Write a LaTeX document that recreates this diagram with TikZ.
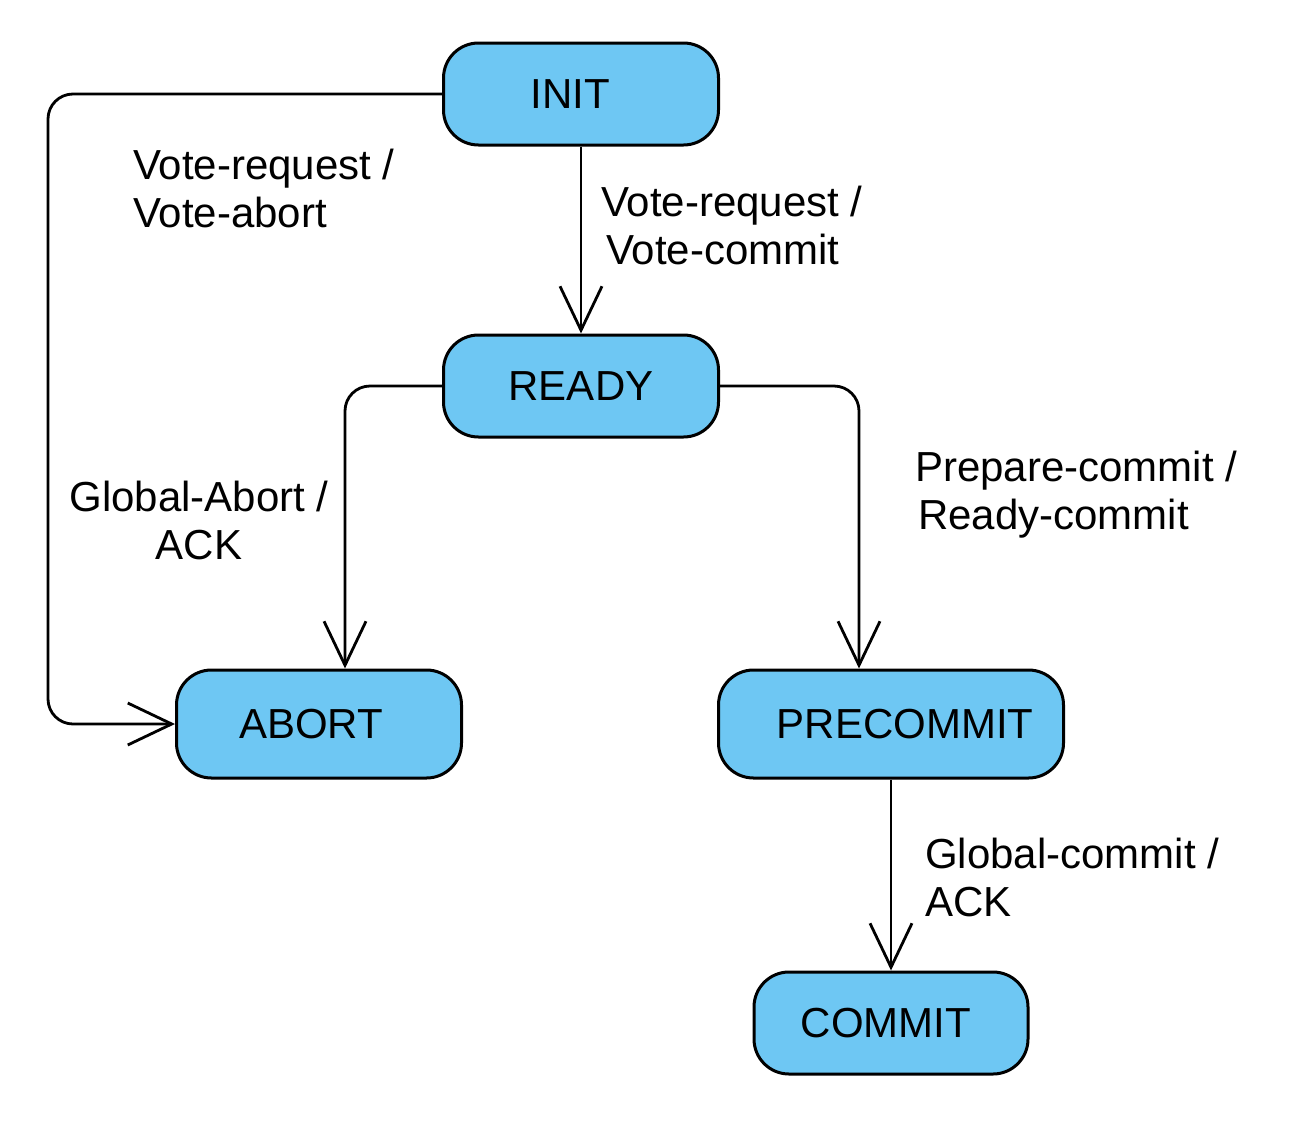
\documentclass[tikz,border=0pt]{standalone}
\usepackage{fontspec}
\setmainfont{Liberation Sans}
\usetikzlibrary{arrows.meta,positioning}

\begin{document}
\begin{tikzpicture}[x=1pt,y=-1pt,
        font=\fontsize{42}{48}\selectfont,
        state/.style={draw=black, line width=3pt, fill=stateblue, rounded corners=35pt, inner sep=0pt},
        arr/.style={line width=2.8pt, -{Straight Barb[length=44pt,width=42pt]}, rounded corners=25pt},
        lbl/.style={inner sep=0pt, align=left, anchor=west}]
        \definecolor{stateblue}{HTML}{6EC7F3}
        \useasboundingbox (0,0) rectangle (1298,1122);
        % States
        \node[state, minimum width=275pt, minimum height=102pt] (init) at (581,94) {\hspace*{-22pt}INIT};
        \node[state, minimum width=275pt, minimum height=102pt] (ready) at (581,386) {READY};
        \node[state, minimum width=285pt, minimum height=108pt] (abort) at (319,724) {\hspace*{-16pt}ABORT};
        \node[state, minimum width=345pt, minimum height=108pt] (precommit) at (891,724) {\hspace*{28pt}PRECOMMIT};
        \node[state, minimum width=274pt, minimum height=102pt] (commit) at (891,1023) {\hspace*{-10pt}COMMIT};
        % Transitions
        \draw[arr] (init.west) -- ++(-394,0) |- (abort.west);
        \draw[arr] (init.south) -- (ready.north);
        \draw[arr] (ready.west) -| ([xshift=26pt]abort.north);
        \draw[arr] (ready.east) -| ([xshift=-32pt]precommit.north);
        \draw[arr] (precommit.south) -- (commit.north);
        % Labels
        \node[lbl] (voteabort) at (133,188) {Vote-request /\\Vote-abort};
        \node[lbl] (votecommit) at (601,225) {Vote-request /\\\hspace*{5pt}Vote-commit};
        \node[inner sep=0pt, align=center] (globalabort) at (199,520) {Global-Abort /\\ACK};
        \node[lbl] (prepare) at (915,495) {Prepare-commit /\\\hspace*{3pt}Ready-commit};
        \node[lbl] (globalcommit) at (925,877) {Global-commit /\\ACK};
\end{tikzpicture}
\end{document}
